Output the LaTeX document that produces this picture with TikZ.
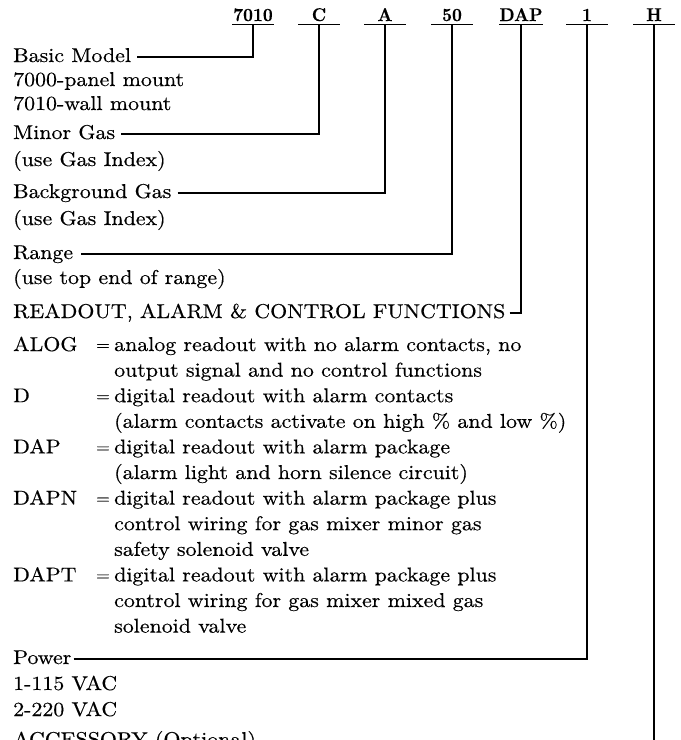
\documentclass[tikz,border=0pt]{standalone}
\usepackage{fontspec}
\setmainfont{lmroman10-regular.otf}[BoldFont=lmroman10-bold.otf, FakeStretch=1.095, FakeBold=0.4]
\newfontfamily\codefont{lmroman10-bold.otf}[FakeStretch=0.93, FakeBold=0.3]
\begin{document}
\begin{tikzpicture}[x=1pt,y=-1pt,
  txt/.style={anchor=base west,inner sep=0pt,font=\fontsize{20}{24}\selectfont},
  eq/.style={anchor=base west,inner sep=0pt,font=\fontsize{16}{20}\selectfont},
  code/.style={anchor=base,inner sep=0pt,minimum width=41pt,text height=12pt,text depth=3.5pt,font=\codefont\fontsize{18.5}{20}\selectfont},
  conn/.style={line width=1.15pt}]
\useasboundingbox (0,0) rectangle (681,740);
\clip (0,0) rectangle (681,740);
% code row
\node[code] (k7010) at (253,21) {7010};
\node[code] (kC) at (319,21) {C};
\node[code] (kA) at (385,21) {A};
\node[code] (k50) at (452,21) {50};
\node[code] (kDAP) at (521,21) {DAP};
\node[code] (k1) at (587,21) {1};
\node[code] (kH) at (654,21) {H};
\foreach \k in {k7010,kC,kA,k50,kDAP,k1,kH} \draw[conn] (\k.south west) -- (\k.south east);
% left texts
\node[txt] (bm) at (13,62) {Basic Model};
\node[txt] (pm) at (13,86) {7000-panel mount};
\node[txt] (wm) at (13,110) {7010-wall mount};
\node[txt] (mg) at (13,139) {Minor Gas};
\node[txt] (ug1) at (13,166) {(use Gas Index)};
\node[txt] (bg) at (13,198) {Background Gas};
\node[txt] (ug2) at (13,225) {(use Gas Index)};
\node[txt] (rg) at (13,259) {Range};
\node[txt] (te) at (13,284) {(use top end of range)};
\node[txt] (ro) at (13,318) {READOUT, ALARM \& CONTROL FUNCTIONS};
% function block
\node[txt] (f1) at (13,351) {ALOG};
\node[eq] (e1) at (96,350) {=};
\node[txt] (d1a) at (114,351) {analog readout with no alarm contacts, no};
\node[txt] (d1b) at (114,376.6) {output signal and no control functions};
\node[txt] (f2) at (13,402.2) {D};
\node[eq] (e2) at (96,401.2) {=};
\node[txt] (d2a) at (114,402.2) {digital readout with alarm contacts};
\node[txt] (d2b) at (114,427.8) {(alarm contacts activate on high \% and low \%)};
\node[txt] (f3) at (13,453.4) {DAP};
\node[eq] (e3) at (96,452.4) {=};
\node[txt] (d3a) at (114,453.4) {digital readout with alarm package};
\node[txt] (d3b) at (114,479) {(alarm light and horn silence circuit)};
\node[txt] (f4) at (13,504.6) {DAPN};
\node[eq] (e4) at (96,503.6) {=};
\node[txt] (d4a) at (114,504.6) {digital readout with alarm package plus};
\node[txt] (d4b) at (114,530.2) {control wiring for gas mixer minor gas};
\node[txt] (d4c) at (114,555.8) {safety solenoid valve};
\node[txt] (f5) at (13,581.4) {DAPT};
\node[eq] (e5) at (96,580.4) {=};
\node[txt] (d5a) at (114,581.4) {digital readout with alarm package plus};
\node[txt] (d5b) at (114,607) {control wiring for gas mixer mixed gas};
\node[txt] (d5c) at (114,632.6) {solenoid valve};
% power and accessory
\node[txt] (pw) at (13,664) {Power};
\node[txt] (v1) at (13,690) {1-115 VAC};
\node[txt] (v2) at (13,716) {2-220 VAC};
\node[txt] (acc) at (13,746) {ACCESSORY (Optional)};
% connectors
\draw[conn] ([shift={(6,-5)}]bm.base east) -| (k7010.south);
\draw[conn] ([shift={(6,-5)}]mg.base east) -| (kC.south);
\draw[conn] ([shift={(6,-5)}]bg.base east) -| (kA.south);
\draw[conn] ([shift={(8,-5)}]rg.base east) -| (k50.south);
\draw[conn] ([shift={(4,-5)}]ro.base east) -| (kDAP.south);
\draw[conn] ([shift={(2,-5)}]pw.base east) -| (k1.south);
\coordinate (hend) at (654,760);
\draw[conn] (kH.south) -- (hend);
\end{tikzpicture}
\end{document}
